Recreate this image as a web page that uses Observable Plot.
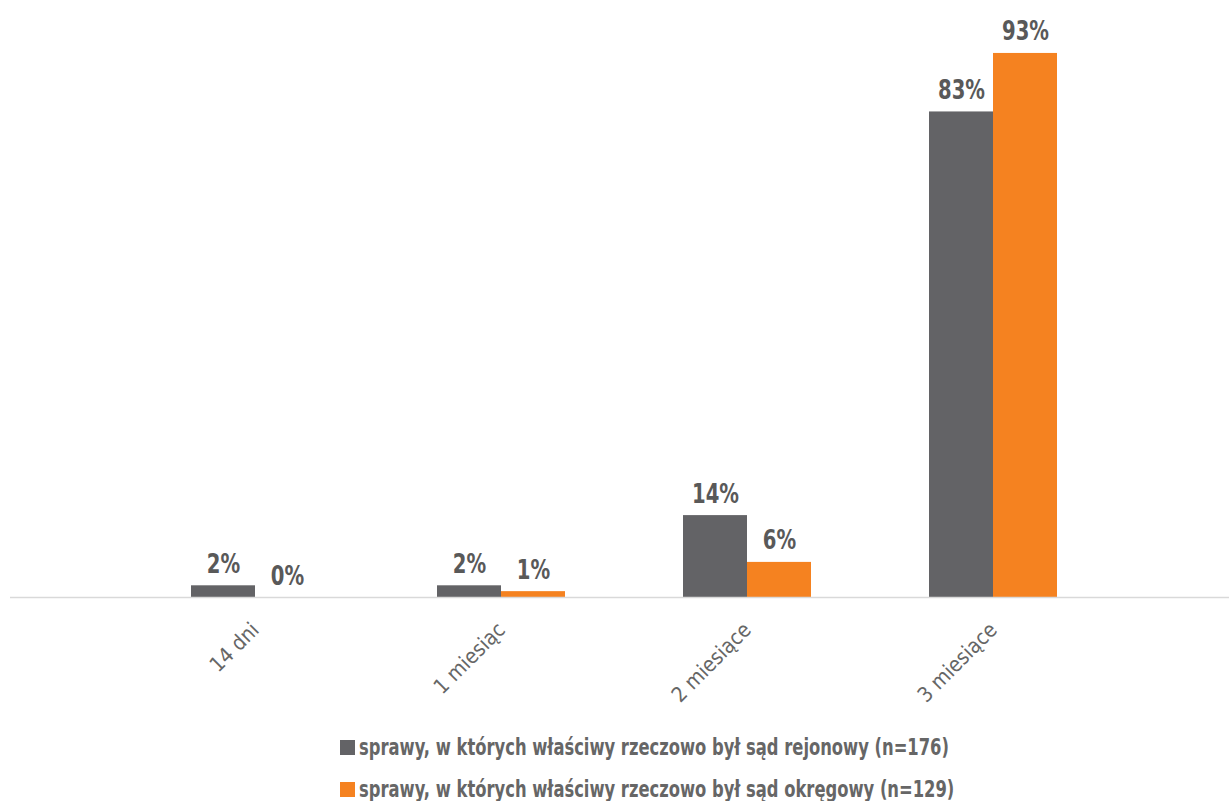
<!DOCTYPE html>
<html>
<head>
<meta charset="utf-8">
<script src="https://cdn.jsdelivr.net/npm/d3@7"></script>
<script src="https://cdn.jsdelivr.net/npm/@observablehq/plot@0.6"></script>
<style>
  body { margin: 0; background: #fff; font-family: "Liberation Sans Narrow", "DejaVu Sans Condensed", sans-serif; }
  #legend { margin-left: 340px; margin-top: 6px; color: #666; font-weight: bold; font-size: 23px; }
  #legend .item { display: flex; align-items: center; height: 42px; white-space: nowrap; }
  #legend .sw { width: 15px; height: 15px; margin-right: 4px; flex: none; }
  #legend .lbl { display: inline-block; transform: scaleX(0.79); transform-origin: left center; }
</style>
</head>
<body>
<div id="chart"></div>
<div id="legend"></div>
<script>
const categories = ["14 dni", "1 miesiąc", "2 miesiące", "3 miesiące"];
const seriesNames = [
  "sprawy, w których właściwy rzeczowo był sąd rejonowy (n=176)",
  "sprawy, w których właściwy rzeczowo był sąd okręgowy (n=129)"
];
const rejonowy = [2, 2, 14, 83];
const okregowy = [0, 1, 6, 93];
const colors = ["#636366", "#f58220"];

const data = [];
categories.forEach((c, i) => {
  data.push({category: c, series: seriesNames[0], value: rejonowy[i], s: 0});
  data.push({category: c, series: seriesNames[1], value: okregowy[i], s: 1});
});

const font = '"Liberation Sans Narrow", "DejaVu Sans Condensed", sans-serif';
const grey = data.filter(d => d.s === 0);
const orange = data.filter(d => d.s === 1);

const chart = Plot.plot({
  width: 1229,
  height: 720,
  marginLeft: 132,
  marginRight: 113,
  marginTop: 12,
  marginBottom: 123,
  style: {fontFamily: font, fontWeight: "bold", background: "#fff"},
  x: {domain: categories, padding: 0, label: null},
  y: {domain: [0, 100], axis: null},
  marks: [
    Plot.barY(grey, {x: "category", y: "value", fill: colors[0], insetLeft: 59, insetRight: 123}),
    Plot.barY(orange, {x: "category", y: "value", fill: colors[1], insetLeft: 123, insetRight: 59}),
    Plot.ruleY([0], {stroke: "#d9d9d9", strokeWidth: 1.5, insetLeft: -122, insetRight: -113}),
    Plot.text(grey, {x: "category", y: "value", text: d => d.value + "%", dx: -32, dy: -13, fontSize: 26, fill: "#595959", fontWeight: "bold"}),
    Plot.text(orange, {x: "category", y: "value", text: d => d.value + "%", dx: 32, dy: -13, fontSize: 26, fill: "#595959", fontWeight: "bold"}),
    Plot.axisX({tickSize: 0, tickPadding: 29, tickRotate: -45, fontSize: 21, fill: "#666", fontWeight: "normal", label: null})
  ]
});
document.getElementById("chart").appendChild(chart);

// narrow the value labels horizontally around their own anchor
d3.select(chart).selectAll('g[aria-label="text"] text').each(function() {
  const el = this;
  let tf = el.getAttribute("transform") || "";
  const x = el.getAttribute("x"), y = el.getAttribute("y");
  if (x !== null || y !== null) {
    tf = `translate(${+x || 0},${+y || 0}) ` + tf;
    el.removeAttribute("x");
    el.removeAttribute("y");
  }
  el.setAttribute("transform", tf + " scale(0.84,1)");
});

const legend = document.getElementById("legend");
seriesNames.forEach((name, i) => {
  const item = document.createElement("div");
  item.className = "item";
  const sw = document.createElement("span");
  sw.className = "sw";
  sw.style.background = colors[i];
  const t = document.createElement("span");
  t.className = "lbl";
  t.textContent = name;
  item.appendChild(sw);
  item.appendChild(t);
  legend.appendChild(item);
});
</script>
</body>
</html>
